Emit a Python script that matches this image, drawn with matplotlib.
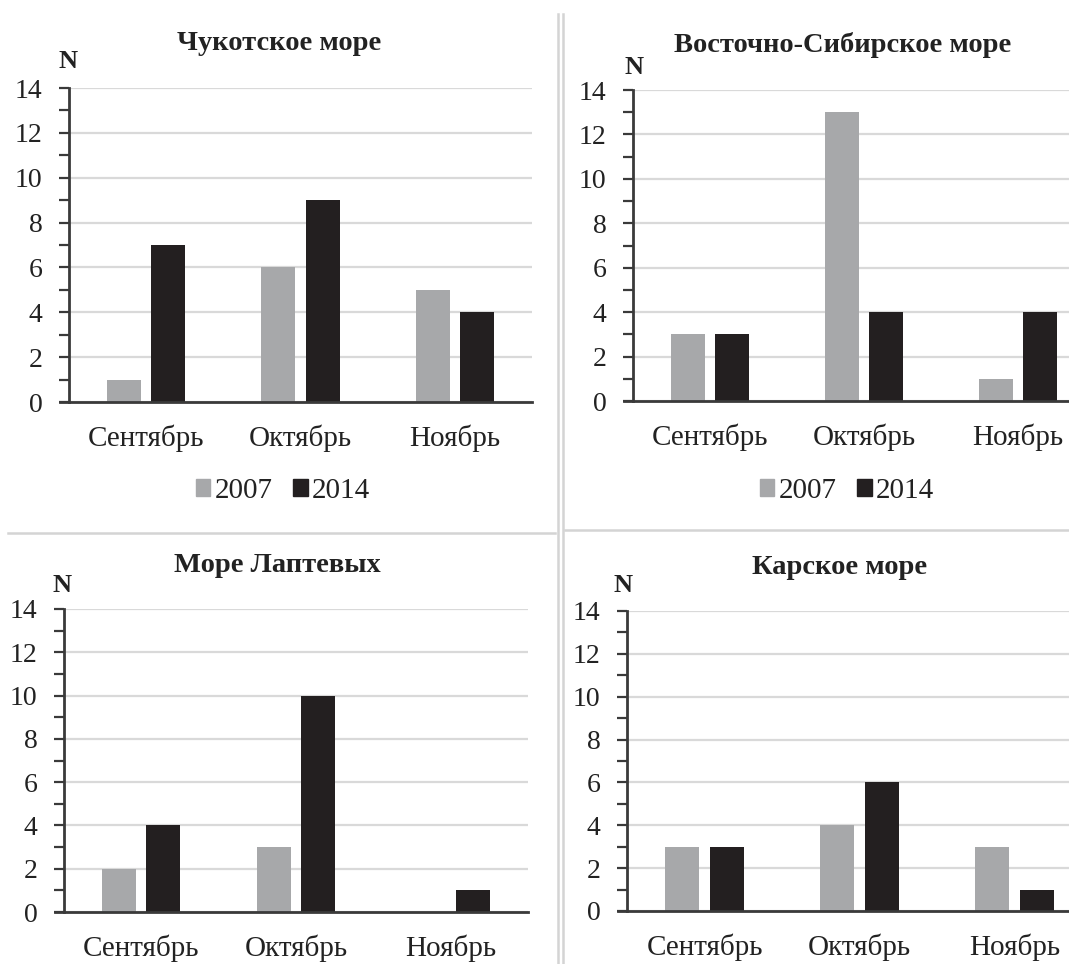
import numpy as np
import matplotlib
matplotlib.use('Agg')
import matplotlib.pyplot as plt
from matplotlib.lines import Line2D
from matplotlib.patches import Patch

plt.rcParams['font.family'] = ['Liberation Serif', 'DejaVu Serif']

W, H = 1069, 964
GRAY = '#a7a8aa'
BLACK = '#231f20'
GRID = '#d9d9d9'
AXIS = '#3a3a3a'

months = ['Сентябрь', 'Октябрь', 'Ноябрь']
years = ['2007', '2014']

chukchi_2007 = [1, 6, 5]
chukchi_2014 = [7, 9, 4]
east_sib_2007 = [3, 13, 1]
east_sib_2014 = [3, 4, 4]
laptev_2007 = [2, 3, 0]
laptev_2014 = [4, 10, 1]
kara_2007 = [3, 4, 3]
kara_2014 = [3, 6, 1]

titles = ['Чукотское море', 'Восточно-Сибирское море', 'Море Лаптевых', 'Карское море']

fig = plt.figure(figsize=(W / 100, H / 100), dpi=100)


def px_axes(left, top, right, bottom):
    return fig.add_axes([left / W, 1 - bottom / H, (right - left) / W, (bottom - top) / H])


def draw_panel(box, v2007, v2014, title, title_xy, n_xy, legend_xy=None):
    ax = px_axes(*box)
    x = np.arange(len(months))
    bw, off = 0.22, 0.143
    ax.bar(x - off, v2007, bw, color=GRAY, zorder=3)
    ax.bar(x + off, v2014, bw, color=BLACK, zorder=3)
    ax.set_xlim(-0.5, 2.5)
    ax.set_ylim(0, 14)
    ax.set_yticks(range(0, 15, 2))
    ax.set_yticks(range(1, 14, 2), minor=True)
    ax.yaxis.grid(True, color=GRID, lw=1.6, zorder=0)
    ax.set_xticks(x)
    ax.set_xticklabels(months, fontsize=21, color='#222222')
    ax.tick_params(axis='x', length=0, pad=16)
    ax.tick_params(axis='y', which='both', direction='out', length=7, width=1.6,
                   color=AXIS, labelsize=20, labelcolor='#222222', pad=12)
    for s in ['top', 'right', 'bottom']:
        ax.spines[s].set_visible(False)
    ax.spines['left'].set_color(AXIS)
    ax.spines['left'].set_linewidth(2)
    # category axis line, starting a little left of the value axis like Excel does
    ax.plot([-0.02, 1], [0, 0], transform=ax.get_yaxis_transform(), color=AXIS,
            lw=2, clip_on=False, zorder=4)
    fig.text(title_xy[0] / W, 1 - title_xy[1] / H, title, ha='center', va='center',
             fontsize=20.5, fontweight='bold', color='#222222')
    fig.text(n_xy[0] / W, 1 - n_xy[1] / H, 'N', ha='center', va='center',
             fontsize=19, fontweight='bold', color='#222222')
    if legend_xy is not None:
        handles = [Patch(color=GRAY), Patch(color=BLACK)]
        fig.legend(handles, years, loc='center', ncol=2, frameon=False,
                   bbox_to_anchor=(legend_xy[0] / W, 1 - legend_xy[1] / H),
                   fontsize=21, handlelength=0.5, handleheight=0.5,
                   handletextpad=0.15, columnspacing=0.7, labelcolor='#222222')
    return ax


draw_panel((69, 88, 532, 402), chukchi_2007, chukchi_2014, titles[0],
           (279, 44), (68, 61), legend_xy=(283, 491))
draw_panel((633, 90, 1095, 401), east_sib_2007, east_sib_2014, titles[1],
           (843, 45), (634, 68), legend_xy=(847, 491))
draw_panel((64, 609, 528, 912), laptev_2007, laptev_2014, titles[2],
           (277, 566), (62, 585))
draw_panel((627, 611, 1092, 911), kara_2007, kara_2014, titles[3],
           (840, 567), (623, 586))

# panel dividers
sep = '#d4d4d4'
for xv in (558, 563):
    fig.add_artist(Line2D([xv / W, xv / W], [1 - 14 / H, 0], color=sep, lw=1.8))
fig.add_artist(Line2D([8 / W, 555 / W], [1 - 533 / H, 1 - 533 / H], color=sep, lw=1.8))
fig.add_artist(Line2D([565 / W, 1], [1 - 530 / H, 1 - 530 / H], color=sep, lw=1.8))

fig.savefig('out.png', dpi=100)
